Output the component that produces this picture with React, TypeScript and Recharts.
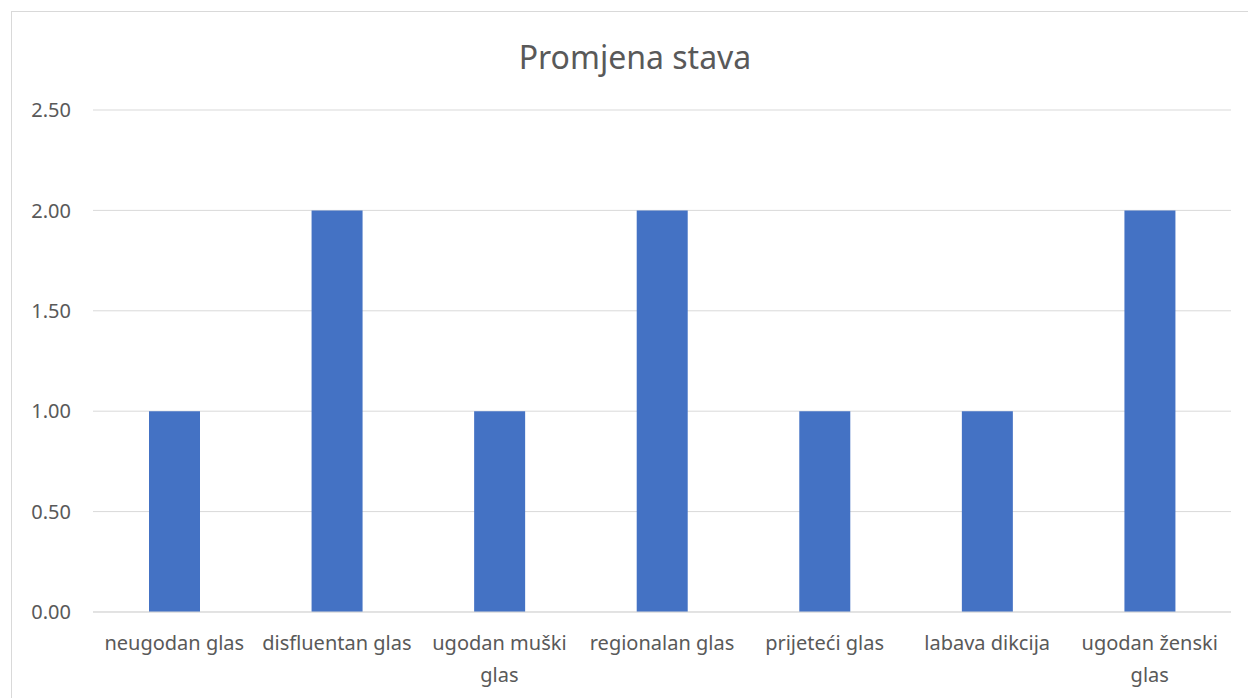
import { BarChart, Bar, XAxis, YAxis, CartesianGrid } from "recharts";

const categories = [
  "neugodan glas",
  "disfluentan glas",
  "ugodan muški glas",
  "regionalan glas",
  "prijeteći glas",
  "labava dikcija",
  "ugodan ženski glas",
];
const values = [1, 2, 1, 2, 1, 1, 2];
const yTicks = [0, 0.5, 1, 1.5, 2, 2.5];

const data = categories.map((name, i) => ({ name, value: values[i] }));

const FONT = "'Noto Sans', sans-serif";
const TEXT = "#595959";

let ctx: CanvasRenderingContext2D | null = null;
const wrap = (label: string, maxWidth: number) => {
  if (!ctx) {
    ctx = document.createElement("canvas").getContext("2d");
    if (ctx) ctx.font = "20px 'Noto Sans'";
  }
  const words = label.split(" ");
  const lines: string[] = [];
  let cur = "";
  for (const w of words) {
    const next = cur ? cur + " " + w : w;
    if (cur && ctx && ctx.measureText(next).width > maxWidth) {
      lines.push(cur);
      cur = w;
    } else {
      cur = next;
    }
  }
  if (cur) lines.push(cur);
  return lines;
};

const CategoryTick = ({ x, y, payload }: any) => {
  const lines = wrap(payload.value, 158);
  return (
    <text x={x} y={y + 30} textAnchor="middle" fill={TEXT} fontSize={20} fontFamily={FONT}>
      {lines.map((l, i) => (
        <tspan key={i} x={x} dy={i === 0 ? 0 : 32}>
          {l}
        </tspan>
      ))}
    </text>
  );
};

export default function App() {
  return (
    <div style={{ position: "absolute", left: 0, top: 0, width: 1248, height: 698, overflow: "hidden", background: "#fff" }}>
      <div
        style={{
          position: "absolute", left: 11, top: 11, width: 1260, height: 720,
          border: "1px solid #d9d9d9", boxSizing: "border-box",
        }}
      />
      <div
        style={{
          position: "absolute", left: 0, top: 35, width: 1270, textAlign: "center",
          fontFamily: FONT, fontSize: 32, color: TEXT, lineHeight: "44px",
        }}
      >
        Promjena stava
      </div>
      <div style={{ position: "absolute", left: 0, top: 0 }}>
        <BarChart width={1248} height={698} data={data} margin={{ top: 110, right: 17, bottom: 0, left: 0 }}>
          <CartesianGrid vertical={false} stroke="#d9d9d9" />
          <XAxis
            dataKey="name"
            height={86}
            interval={0}
            tickLine={false}
            axisLine={{ stroke: "#d9d9d9" }}
            tick={<CategoryTick />}
          />
          <YAxis
            width={93}
            domain={[0, 2.5]}
            ticks={yTicks}
            tickFormatter={(v: number) => v.toFixed(2)}
            axisLine={false}
            tickLine={false}
            tickSize={0}
            tickMargin={22}
            tick={{ fill: TEXT, fontSize: 20, fontFamily: FONT }}
          />
          <Bar dataKey="value" fill="#4472C4" barSize={51} isAnimationActive={false} />
        </BarChart>
      </div>
    </div>
  );
}
